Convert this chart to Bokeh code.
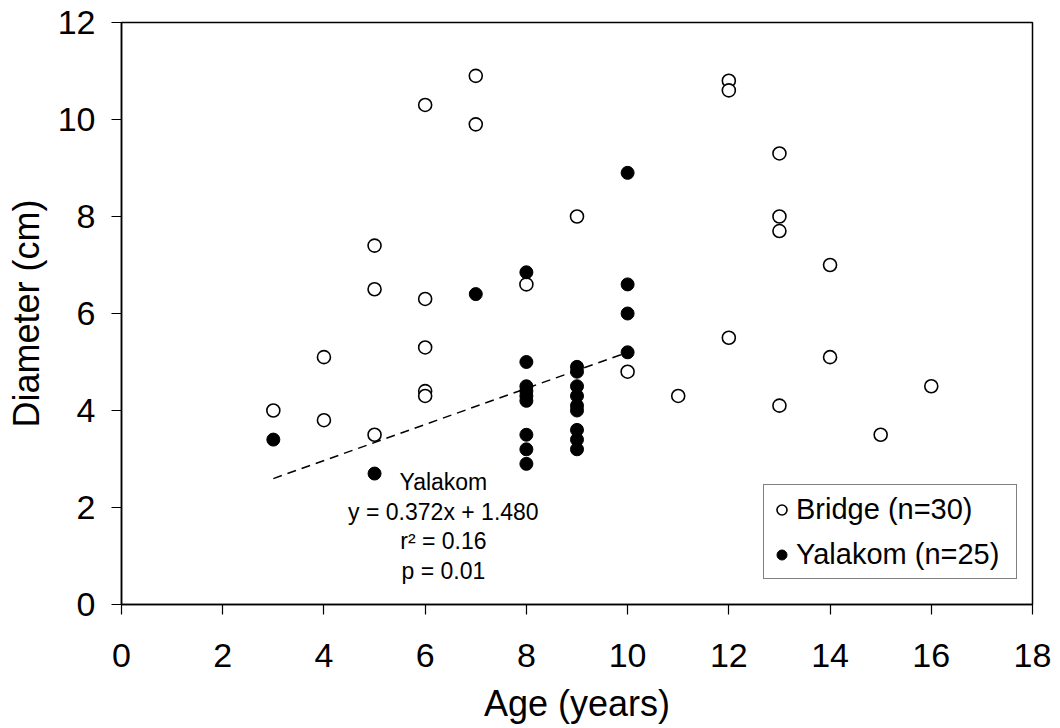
from bokeh.plotting import figure
from bokeh.models import ColumnDataSource, Legend, LegendItem, Label, FixedTicker, Range1d
from bokeh.embed import file_html
from bokeh.resources import INLINE

# ---- data ----
bridge_age = [3, 4, 4, 5, 5, 5, 6, 6, 6, 6, 6, 7, 7, 8, 9, 10, 11, 12, 12, 12, 13, 13, 13, 13, 14, 14, 15, 16]
bridge_diam = [4.0, 5.1, 3.8, 7.4, 6.5, 3.5, 10.3, 6.3, 5.3, 4.4, 4.3, 10.9, 9.9, 6.6, 8.0, 4.8, 4.3,
               10.8, 10.6, 5.5, 9.3, 8.0, 7.7, 4.1, 7.0, 5.1, 3.5, 4.5]
yalakom_age = [3, 5, 7, 8, 8, 8, 8, 8, 8, 8, 8, 8, 9, 9, 9, 9, 9, 9, 9, 9, 9, 10, 10, 10, 10]
yalakom_diam = [3.4, 2.7, 6.4, 6.85, 5.0, 4.5, 4.4, 4.3, 4.2, 3.5, 3.2, 2.9,
                4.9, 4.8, 4.5, 4.3, 4.1, 4.0, 3.6, 3.4, 3.2, 8.9, 6.6, 6.0, 5.2]
fit_slope = 0.372
fit_intercept = 1.480
x_ticks = [0, 2, 4, 6, 8, 10, 12, 14, 16, 18]
y_ticks = [0, 2, 4, 6, 8, 10, 12]
legend_labels = ["Bridge (n=30)", "Yalakom (n=25)"]
annotation_lines = ["Yalakom", "y = 0.372x + 1.480", "r\u00b2 = 0.16", "p = 0.01"]
x_label = "Age (years)"
y_label = "Diameter (cm)"

FONT = "Liberation Sans"

p = figure(width=1052, height=724, output_backend="svg", toolbar_location=None,
           x_range=Range1d(0, 18), y_range=Range1d(0, 12))
p.frame_width = 911
p.frame_height = 582
p.min_border_left = 121
p.min_border_top = 22
p.min_border_right = 20
p.min_border_bottom = 120

p.grid.visible = False
p.background_fill_color = "white"
p.border_fill_color = "white"
p.outline_line_color = "black"
p.outline_line_width = 1.5

for ax in (p.xaxis[0], p.yaxis[0]):
    ax.axis_line_width = 1.5
    ax.axis_line_color = "black"
    ax.major_tick_line_color = "black"
    ax.major_tick_line_width = 1.2
    ax.major_tick_out = 10
    ax.major_tick_in = 0
    ax.minor_tick_out = 0
    ax.minor_tick_in = 0
    ax.major_label_text_font = FONT
    ax.major_label_text_font_size = "34px"
    ax.major_label_text_color = "black"
    ax.axis_label_text_font = FONT
    ax.axis_label_text_font_size = "36px"
    ax.axis_label_text_font_style = "normal"
    ax.axis_label_text_color = "black"

p.xaxis.ticker = FixedTicker(ticks=x_ticks)
p.yaxis.ticker = FixedTicker(ticks=y_ticks)
p.xaxis.axis_label = x_label
p.yaxis.axis_label = y_label
p.xaxis.major_label_standoff = 29
p.yaxis.major_label_standoff = 16
p.xaxis.axis_label_standoff = 13
p.yaxis.axis_label_standoff = 8

# regression line for Yalakom
fx = [min(yalakom_age), max(yalakom_age)]
fy = [fit_slope * v + fit_intercept for v in fx]
p.line(fx, fy, line_color="black", line_width=1.5, line_dash="9 6")

src_b = ColumnDataSource(dict(x=bridge_age, y=bridge_diam))
src_y = ColumnDataSource(dict(x=yalakom_age, y=yalakom_diam))
r_b = p.scatter("x", "y", source=src_b, marker="circle", size=13, fill_color="white",
                line_color="black", line_width=1.6)
r_y = p.scatter("x", "y", source=src_y, marker="circle", size=13, fill_color="black",
                line_color="black", line_width=1.0)

legend = Legend(items=[LegendItem(label=legend_labels[0], renderers=[r_b]),
                       LegendItem(label=legend_labels[1], renderers=[r_y])],
                location=(642, 25))
legend.label_text_font = FONT
legend.label_text_font_size = "29px"
legend.label_text_color = "black"
legend.glyph_width = 25
legend.glyph_height = 25
legend.label_height = 38
legend.label_width = 215
legend.label_standoff = 2
legend.spacing = 7
legend.padding = 5
legend.margin = 0
legend.border_line_color = "black"
legend.border_line_width = 1
legend.background_fill_color = "white"
legend.background_fill_alpha = 1
p.add_layout(legend)

# annotation text
ann_x = 6.36
ann_top = 2.52
ann_step = 0.61
for i, t in enumerate(annotation_lines):
    p.add_layout(Label(x=ann_x, y=ann_top - i * ann_step, text=t, text_align="center",
                       text_baseline="middle", text_font=FONT, text_font_size="23px",
                       text_color="black"))

open("out.html", "w").write(file_html(p, INLINE))
